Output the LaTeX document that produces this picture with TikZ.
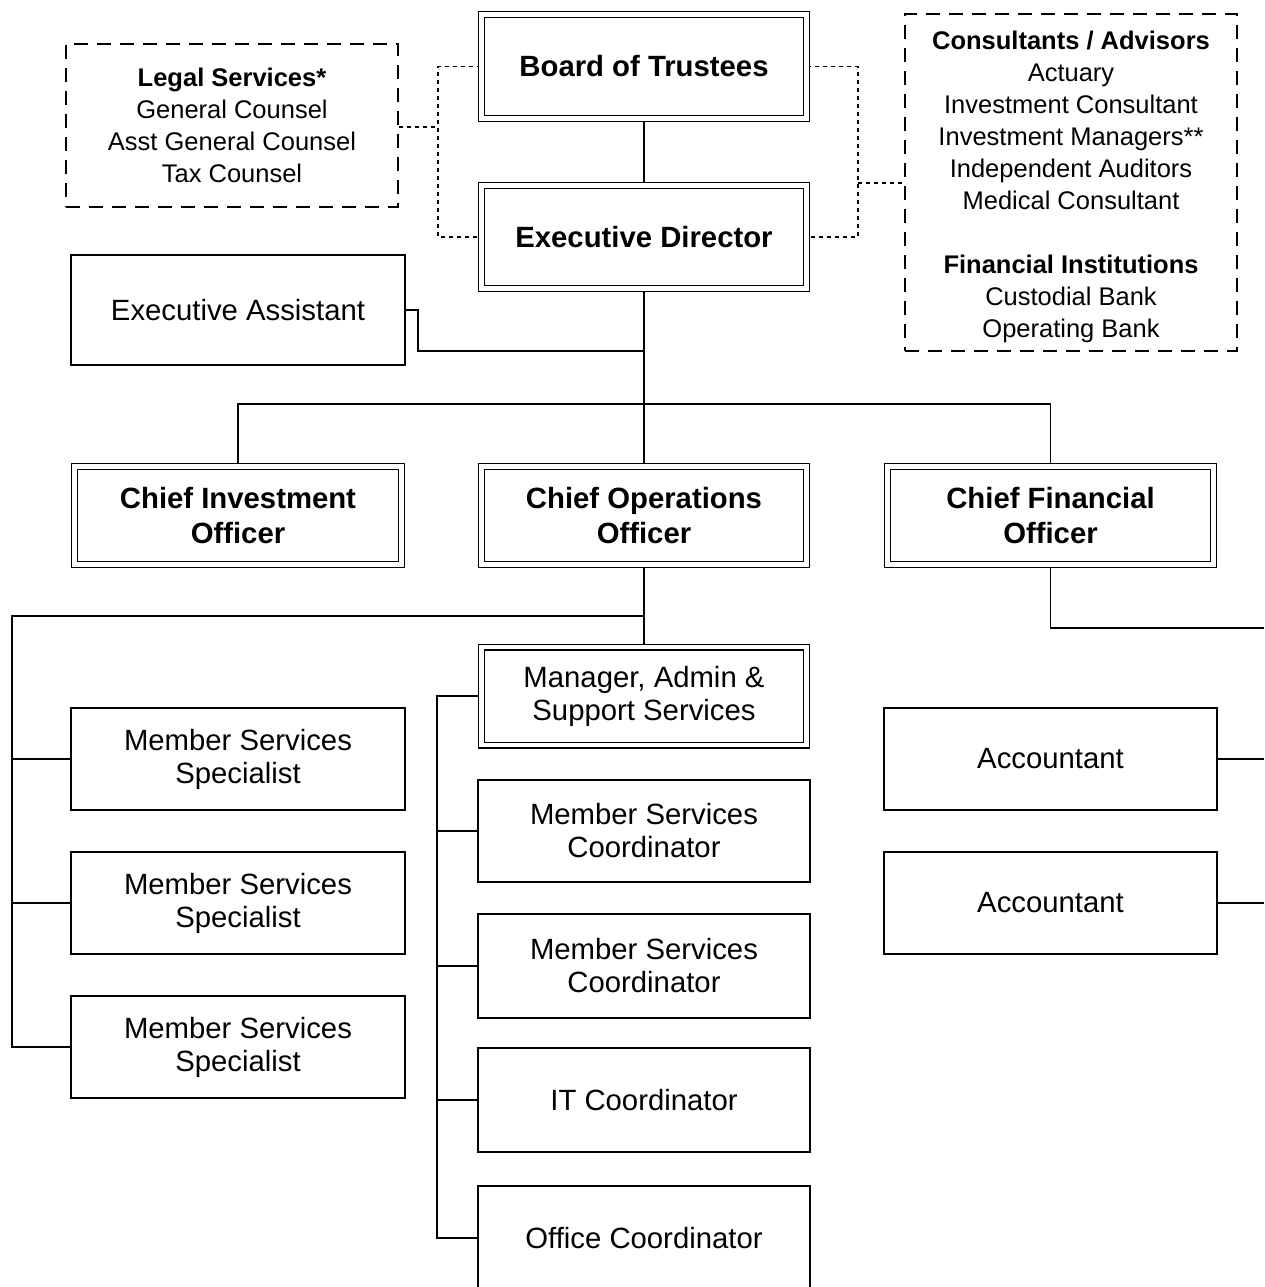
\documentclass[tikz,border=0pt]{standalone}
\usepackage{fontspec}
\setmainfont{Liberation Sans}
\usetikzlibrary{backgrounds}
\begin{document}
\begin{tikzpicture}[x=1pt,y=-1pt,
  box/.style={draw, line width=1.4pt, fill=white, minimum width=333pt, minimum height=102pt, inner sep=0pt, align=center, font=\fontsize{29.3}{33}\selectfont},
  dbox/.style={box, double, double distance=4.2pt, minimum width=325pt, minimum height=98pt},
  boldbox/.style={dbox, font=\bfseries\fontsize{29.3}{35}\selectfont},
  side/.style={draw, line width=1.3pt, fill=white, dash pattern=on 14pt off 9pt, inner sep=0pt, align=center, minimum width=332pt, font=\fontsize{25.5}{32}\selectfont},
  conn/.style={line width=1.3pt},
  dconn/.style={line width=1.3pt, dash pattern=on 4pt off 4pt}]
\useasboundingbox (0,0) rectangle (1264,1287);

% top level
\node[boldbox, minimum height=104pt] (bot) at (644,66.5) {Board of Trustees};
\node[boldbox, minimum height=103pt] (ed) at (644,237) {Executive Director};
\node[side, minimum height=163pt] (legal) at (232,125.5) {\textbf{Legal Services*}\\General Counsel\\Asst General Counsel\\Tax Counsel};
\node[side, minimum height=337pt] (cons) at (1071,182.5) {\rule{0pt}{27pt}\textbf{Consultants / Advisors}\\Actuary\\Investment Consultant\\Investment Managers**\\Independent Auditors\\Medical Consultant\\[32pt]\textbf{Financial Institutions}\\Custodial Bank\\Operating Bank};
\node[box, minimum width=334pt, minimum height=110pt] (ea) at (238,310) {Executive Assistant};

% officers
\node[boldbox, minimum width=327pt] (cio) at (238,515.5) {Chief Investment\\Officer};
\node[boldbox] (coo) at (644,515.5) {Chief Operations\\Officer};
\node[boldbox, minimum width=326pt] (cfo) at (1050.5,515.5) {Chief Financial\\Officer};

% operations
\node[dbox] (mgr) at (644,696) {Manager, Admin \&\\Support Services};
\node[box, minimum width=334pt] (mss1) at (238,759) {Member Services\\Specialist};
\node[box, minimum width=334pt] (mss2) at (238,903) {Member Services\\Specialist};
\node[box, minimum width=334pt] (mss3) at (238,1047) {Member Services\\Specialist};
\node[box, minimum width=332pt] (msc1) at (644,831) {Member Services\\Coordinator};
\node[box, minimum width=332pt, minimum height=104pt] (msc2) at (644,966) {Member Services\\Coordinator};
\node[box, minimum width=332pt, minimum height=104pt] (it) at (644,1100) {IT Coordinator};
\node[box, minimum width=332pt, minimum height=104pt] (office) at (644,1238) {Office Coordinator};

% finance
\node[box] (acc1) at (1050.5,759) {Accountant};
\node[box] (acc2) at (1050.5,903) {Accountant};

% coordinates
\coordinate (eaj) at (644,351);
\coordinate (bus) at (644,404);
\coordinate (cooj) at (644,616);
\coordinate (lbus) at (12,616);
\coordinate (mgrx) at (437,696);
\coordinate (cfoj) at (1050.5,628);
\coordinate (redge) at (1264,628);
\coordinate (dl) at (438,127);
\coordinate (dr) at (858,183);

\begin{pgfonlayer}{background}
  \draw[conn] (bot) -- (ed);
  \draw[conn] (ed) -- (bus);
  \draw[conn] (ea.east) -- (418,310) -- (418,351) -- (eaj);
  \draw[conn] (cio.north) |- (bus) -| (cfo.north);
  \draw[conn] (bus) -- (coo.north);
  \draw[conn] (coo) -- (mgr);
  \draw[conn] (cooj) -- (lbus) |- (mss3.west);
  \draw[conn] (lbus |- mss1.west) -- (mss1.west);
  \draw[conn] (lbus |- mss2.west) -- (mss2.west);
  \draw[conn] (mgr.west) -- (mgrx) |- (office.west);
  \draw[conn] (mgrx |- msc1.west) -- (msc1.west);
  \draw[conn] (mgrx |- msc2.west) -- (msc2.west);
  \draw[conn] (mgrx |- it.west) -- (it.west);
  \draw[conn] (cfo.south) -- (cfoj) -- (redge);
  \draw[conn] (acc1.east) -- (redge |- acc1.east);
  \draw[conn] (acc2.east) -- (redge |- acc2.east);
  % dotted advisory lines
  \draw[dconn] (bot.west) -- (438,66.5) -- (438,237) -- (ed.west);
  \draw[dconn] (bot.east) -- (858,66.5) -- (858,237) -- (ed.east);
  \draw[dconn] (legal.east |- dl) -- (dl);
  \draw[dconn] (dr) -- (cons.west |- dr);
\end{pgfonlayer}
\end{tikzpicture}
\end{document}
